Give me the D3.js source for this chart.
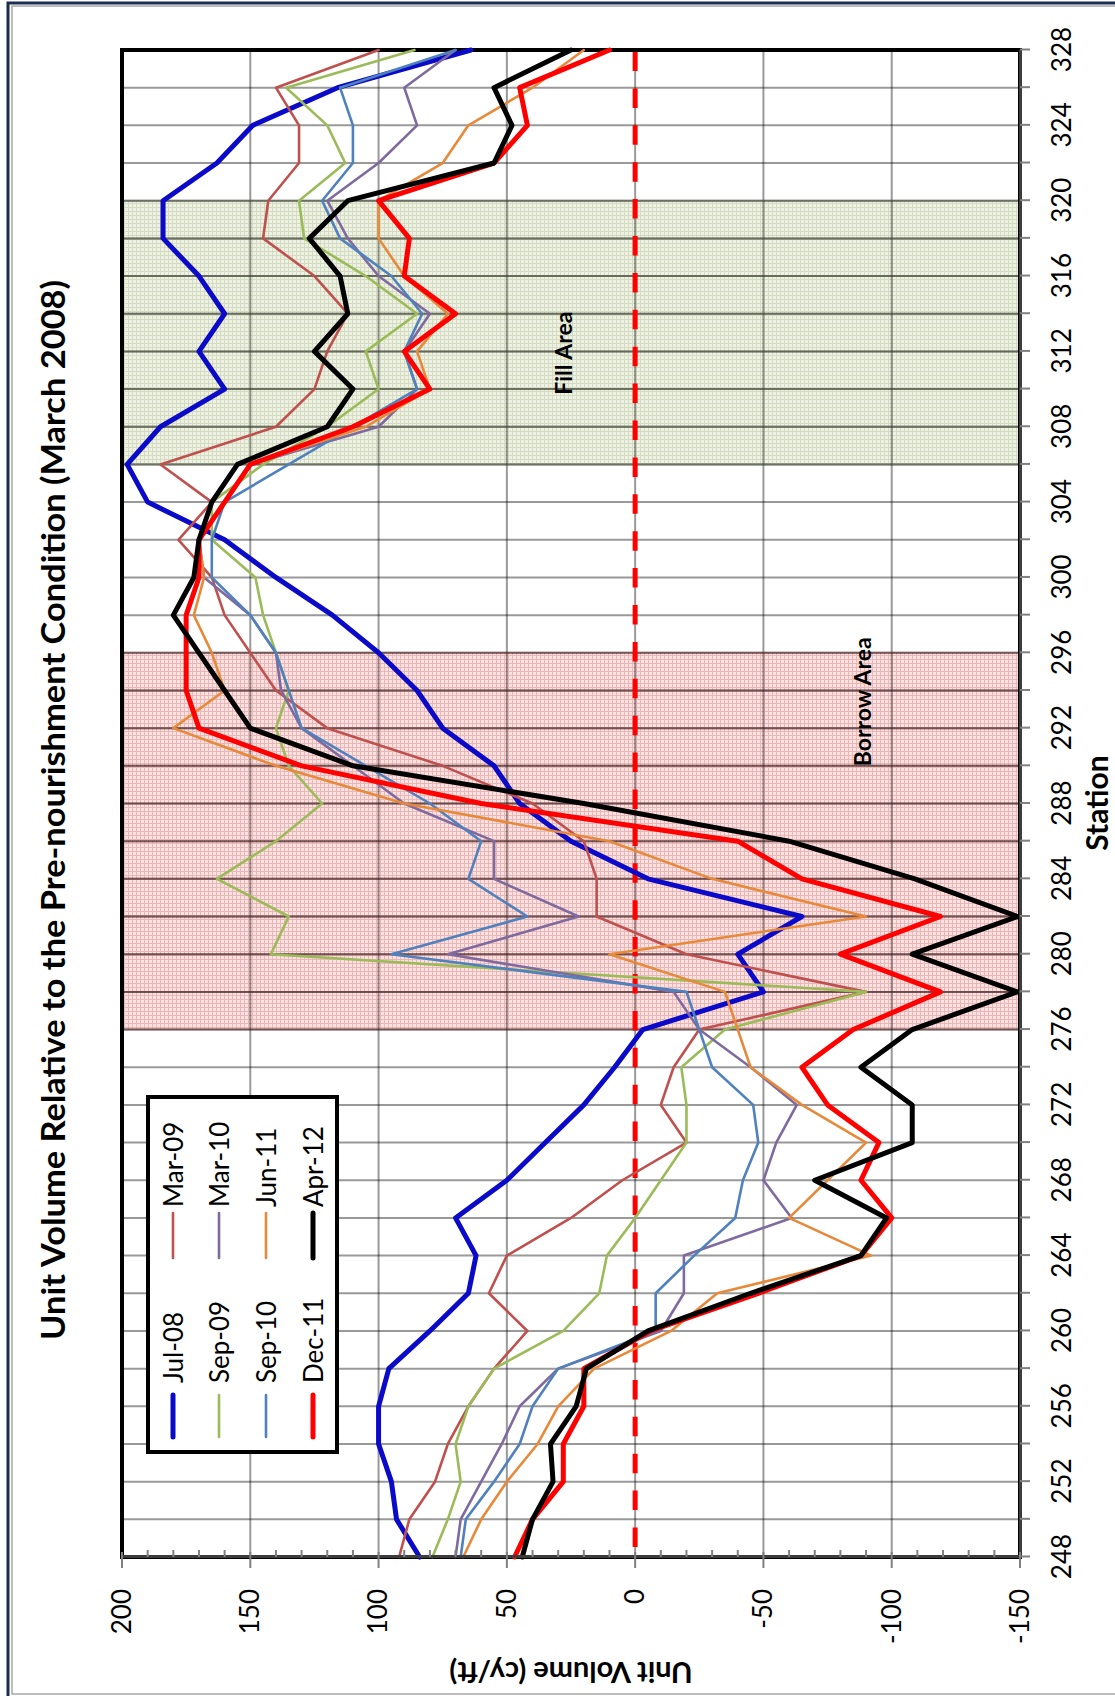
<!DOCTYPE html>
<html>
<head>
<meta charset="utf-8">
<script src="https://cdn.jsdelivr.net/npm/d3@7"></script>
<style>
  html, body { margin: 0; padding: 0; background: #fff; }
  svg { display: block; font-family: Lato, "Open Sans", "Liberation Sans", sans-serif; }
</style>
</head>
<body>
<svg id="chart" width="1115" height="1696"></svg>
<script>
// Survey stations (every 200 ft)
const stations = [248,250,252,254,256,258,260,262,264,266,268,270,272,274,276,278,280,282,284,286,288,
                  290,292,294,296,298,300,302,304,306,308,310,312,314,316,318,320,322,324,326,328];

// Unit volume relative to March 2008 (cy/ft), one value per station
const jul08 = [84,93,95,100,100,96,80,65,62,70,50,35,20,8,-3,-50,-40,-65,-5,25,45,55,75,85,100,118,140,160,190,198,185,160,170,160,170,184,184,163,149,116,64];
const mar09 = [92,88,78,73,65,55,42,57,50,25,5,-20,-10,-15,-25,-90,-20,15,15,20,40,75,120,140,150,160,165,178,165,185,140,125,120,112,125,145,143,131,131,140,100];
const sep09 = [79,73,68,70,65,55,28,14,11,0,-10,-20,-20,-18,-35,-90,142,135,163,140,122,135,140,135,140,145,148,165,165,145,120,100,105,85,105,129,131,113,120,136,86];
const mar10 = [70,68,60,52,45,30,-10,-19,-19,-61,-50,-55,-63,-45,-25,-15,73,22,55,55,90,110,130,138,140,150,168,170,160,150,100,85,90,80,100,112,120,100,85,90,70];
const sep10 = [68,66,55,45,40,30,-8,-8,-23,-39,-42,-48,-46,-30,-25,-20,95,42,65,60,80,105,130,135,140,150,165,165,160,135,110,85,90,83,95,115,122,110,110,115,70];
const jun11 = [67,60,50,38,30,16,-14,-32,-92,-60,-75,-90,-65,-45,-40,-35,10,-90,-30,10,90,140,180,160,165,172,168,170,160,150,105,80,85,73,90,100,100,75,65,40,20];
const dec11 = [47,40,28,28,20,20,-6,-48,-88,-100,-88,-95,-75,-65,-85,-119,-80,-119,-65,-40,60,130,170,175,175,175,170,170,160,150,110,80,90,70,90,88,100,55,42,45,10];
const apr12 = [44,40,32,33,23,19,-5,-45,-88,-98,-70,-108,-108,-88,-108,-149,-108,-149,-109,-60,20,110,150,160,170,180,172,170,165,155,120,110,125,112,115,127,112,55,48,55,25];

const seriesNames  = ["Jul-08","Mar-09","Sep-09","Mar-10","Sep-10","Jun-11","Dec-11","Apr-12"];
const seriesValues = [jul08, mar09, sep09, mar10, sep10, jun11, dec11, apr12];
const seriesColors = ["#0a0ac8","#c0504d","#9bbb59","#7f6aa0","#4f81bd","#e8893a","#ff0000","#000000"];
const seriesWidths = [5, 2.6, 2.6, 2.6, 2.6, 2.6, 5, 5];

// Axis ticks
const valueTicks   = [200,150,100,50,0,-50,-100,-150];
const stationTicks = stations;
const stationLabelStep = 4;

// Project zones along the shoreline
const zoneNames  = ["Fill Area","Borrow Area"];
const zoneStarts = [306, 276];
const zoneEnds   = [320, 296];

// ---------------------------------------------------------------
const plot = { left: 139, right: 1646, top: 122, bottom: 1020 };

const svg = d3.select("#chart");

// page frames
svg.append("path").attr("d", "M8,1700V3H1120").attr("fill", "none")
   .attr("stroke", "#1b2d4f").attr("stroke-width", 3);
svg.append("rect").attr("x", 12).attr("y", 6).attr("width", 1200).attr("height", 1688)
   .attr("fill", "none").attr("stroke", "#a8a8a8").attr("stroke-width", 1.5);

const defs = svg.append("defs");
function gridPattern(id, bg, line) {
  const p = defs.append("pattern").attr("id", id)
    .attr("patternUnits", "userSpaceOnUse").attr("width", 4).attr("height", 4);
  p.append("rect").attr("width", 4).attr("height", 4).attr("fill", bg);
  p.append("path").attr("d", "M0,0.5H4M0.5,0V4").attr("stroke", line).attr("stroke-width", 1);
}
gridPattern("fillPat", "#eef1e4", "#d3dbc0");
gridPattern("borrowPat", "#fbe2e2", "#ebb6b6");
const zonePatterns = ["url(#fillPat)", "url(#borrowPat)"];
const zoneLineColors = ["#4e5640", "#5a2a2a"];

// the chart is laid out landscape and turned a quarter turn onto the portrait page
const g = svg.append("g").attr("transform", `translate(0,1696) rotate(-90)`);

const x = d3.scaleLinear().domain([248, 328]).range([plot.left, plot.right]);
const y = d3.scaleLinear().domain([-150, 200]).range([plot.bottom, plot.top]);

// shaded zones
g.selectAll("rect.zone").data(zoneNames).join("rect").attr("class", "zone")
  .attr("x", (d, i) => x(zoneStarts[i]))
  .attr("width", (d, i) => x(zoneEnds[i]) - x(zoneStarts[i]))
  .attr("y", plot.top).attr("height", plot.bottom - plot.top)
  .attr("fill", (d, i) => zonePatterns[i]);

// gridlines
g.append("g").selectAll("line").data(stationTicks).join("line")
  .attr("x1", d => x(d)).attr("x2", d => x(d))
  .attr("y1", plot.top).attr("y2", plot.bottom)
  .attr("stroke", "#000").attr("stroke-opacity", 0.4).attr("stroke-width", 2);
g.append("g").selectAll("line").data(valueTicks).join("line")
  .attr("x1", plot.left).attr("x2", plot.right)
  .attr("y1", d => y(d)).attr("y2", d => y(d))
  .attr("stroke", "#000").attr("stroke-opacity", 0.4).attr("stroke-width", 2);

// station lines read darker inside each zone
zoneNames.forEach((z, i) => {
  const inside = stationTicks.filter(s => s >= zoneStarts[i] && s <= zoneEnds[i]);
  g.append("g").selectAll("line").data(inside).join("line")
    .attr("x1", d => x(d)).attr("x2", d => x(d))
    .attr("y1", plot.top).attr("y2", plot.bottom)
    .attr("stroke", zoneLineColors[i]).attr("stroke-opacity", 0.55).attr("stroke-width", 2);
});

// zero reference
g.append("line").attr("x1", x(248)).attr("x2", x(328)).attr("y1", y(0)).attr("y2", y(0))
  .attr("stroke", "#ff0000").attr("stroke-width", 5)
  .attr("stroke-dasharray", "19.5 17.4").attr("stroke-dashoffset", 26.9);

// plot border
g.append("rect").attr("x", plot.left).attr("y", plot.top)
  .attr("width", plot.right - plot.left).attr("height", plot.bottom - plot.top)
  .attr("fill", "none").attr("stroke", "#000").attr("stroke-width", 4);

// series
const line = d3.line().x((d, i) => x(stations[i])).y(d => y(d));
g.append("g").selectAll("path").data(seriesValues).join("path")
  .attr("d", d => line(d)).attr("fill", "none")
  .attr("stroke", (d, i) => seriesColors[i])
  .attr("stroke-width", (d, i) => seriesWidths[i])
  .attr("stroke-linejoin", "round").attr("stroke-linecap", "round");

// zone labels
const zoneLabelStation = [309.7, 293.4];
const zoneLabelValue   = [24.6, -92];
const zoneLabelAnchor  = ["start", "middle"];
g.selectAll("text.zone").data(zoneNames).join("text").attr("class", "zone")
  .attr("x", (d, i) => x(zoneLabelStation[i])).attr("y", (d, i) => y(zoneLabelValue[i]))
  .attr("text-anchor", (d, i) => zoneLabelAnchor[i])
  .attr("font-size", 23).attr("font-weight", "bold").text(d => d);

// station axis
const xAxis = d3.axisBottom(x).tickValues(stationTicks)
  .tickFormat(d => (d % stationLabelStep === 0 ? String(d) : ""))
  .tickSizeInner(10).tickSizeOuter(0).tickPadding(23);
const xg = g.append("g").attr("transform", `translate(0,${plot.bottom})`).call(xAxis);
xg.select(".domain").attr("stroke", "#3c3c3c").attr("stroke-width", 3);
xg.selectAll(".tick line").attr("stroke", "#808080").attr("stroke-width", 2);
xg.selectAll(".tick text").attr("font-size", 26).attr("font-family", "Lato").attr("fill", "#000");

// value axis
const yAxis = d3.axisLeft(y).tickValues(valueTicks).tickFormat(d => String(d))
  .tickSize(0).tickPadding(32);
const yg = g.append("g").attr("transform", `translate(${plot.left},0)`).call(yAxis);
yg.select(".domain").attr("stroke", "#3c3c3c").attr("stroke-width", 3);
yg.selectAll(".tick text").attr("font-size", 26).attr("font-family", "Lato").attr("fill", "#000");
const minorTicks = d3.range(-150, 201, 10).filter(v => v % 50 !== 0);
yg.append("g").selectAll("line").data(minorTicks).join("line")
  .attr("x1", 0).attr("x2", 7).attr("y1", d => y(d)).attr("y2", d => y(d))
  .attr("stroke", "#808080").attr("stroke-width", 2);
yg.append("g").selectAll("line").data(valueTicks).join("line")
  .attr("x1", -11).attr("x2", 5).attr("y1", d => y(d)).attr("y2", d => y(d))
  .attr("stroke", "#808080").attr("stroke-width", 2);

// titles
g.append("text").attr("x", 886).attr("y", 65).attr("text-anchor", "middle")
  .attr("font-size", 32).attr("font-weight", "bold")
  .attr("textLength", 1060).attr("lengthAdjust", "spacingAndGlyphs")
  .text("Unit Volume Relative to the Pre-nourishment Condition (March 2008)");
g.append("text").attr("x", 893).attr("y", 1108).attr("text-anchor", "middle")
  .attr("font-size", 30).attr("font-weight", "bold").text("Station");
g.append("text").attr("transform", `translate(34,${(plot.top + plot.bottom) / 2}) rotate(-90)`)
  .attr("text-anchor", "middle").attr("font-size", 29).attr("font-weight", "bold")
  .text("Unit Volume (cy/ft)");

// legend
const legend = g.append("g");
legend.append("rect").attr("x", 244).attr("y", 148).attr("width", 355).attr("height", 189)
  .attr("fill", "#fff").attr("stroke", "#000").attr("stroke-width", 4);
const legendRows = [173, 219, 266, 313];
const legendSwatchX = [259, 438];
const legendSwatchLen = [42, 45];
const legendTextX = [313, 489];
const items = legend.selectAll("g.item").data(seriesNames).join("g").attr("class", "item");
items.append("line")
  .attr("x1", (d, i) => legendSwatchX[i % 2])
  .attr("x2", (d, i) => legendSwatchX[i % 2] + legendSwatchLen[i % 2])
  .attr("y1", (d, i) => legendRows[Math.floor(i / 2)])
  .attr("y2", (d, i) => legendRows[Math.floor(i / 2)])
  .attr("stroke", (d, i) => seriesColors[i])
  .attr("stroke-width", (d, i) => seriesWidths[i])
  .attr("stroke-linecap", "round");
items.append("text")
  .attr("x", (d, i) => legendTextX[i % 2])
  .attr("y", (d, i) => legendRows[Math.floor(i / 2)] + 9.5)
  .attr("font-size", 26).text(d => d);
</script>
</body>
</html>
